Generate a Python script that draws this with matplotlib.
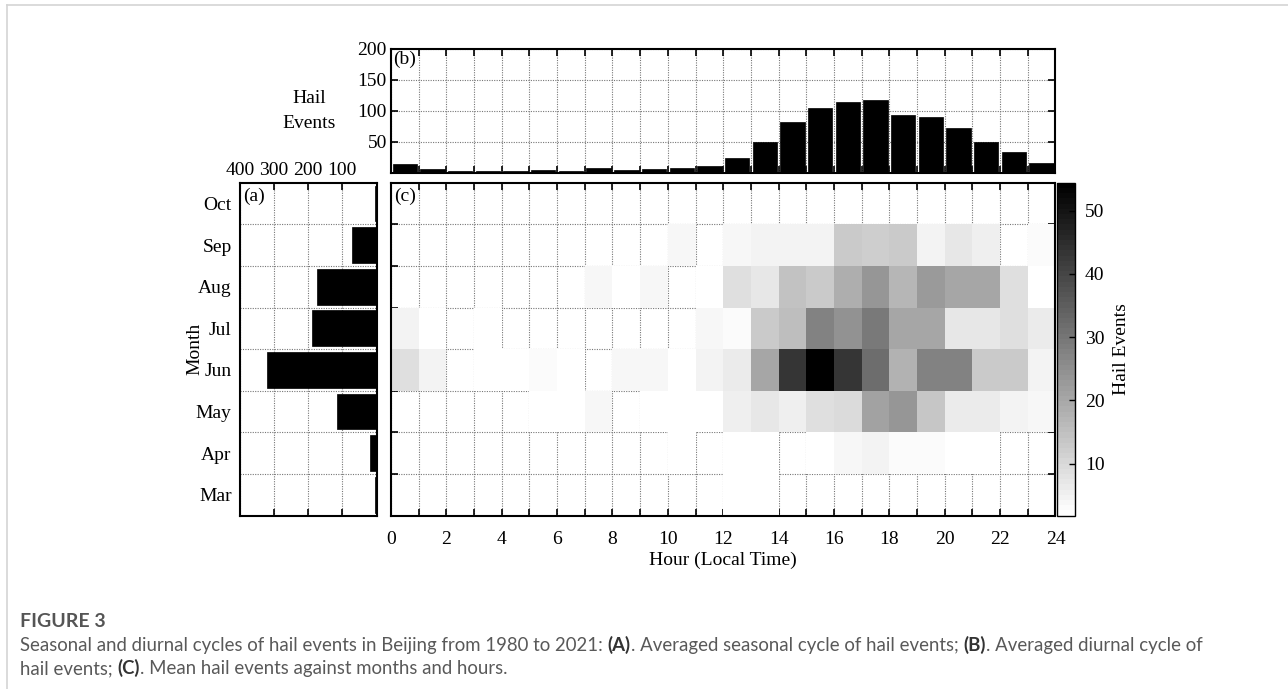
import numpy as np
import matplotlib
matplotlib.use("Agg")
import matplotlib.pyplot as plt
from matplotlib.lines import Line2D

# ---------------- data ----------------
months = ["Mar", "Apr", "May", "Jun", "Jul", "Aug", "Sep", "Oct"]
hours = list(range(24))
hour_labels = [str(h) for h in range(0, 25, 2)]

# (b) diurnal cycle: total hail events per hour
hourly_events = [13, 5, 2, 3, 2, 4, 3, 7, 4, 6, 8, 10,
                 24, 50, 81, 104, 113, 117, 93, 90, 71, 50, 33, 15]

# (a) seasonal cycle: total hail events per month (Mar..Oct)
monthly_events = [5, 20, 117, 320, 190, 173, 73, 3]

# (c) mean hail events by month (rows) and hour (columns); 0 = no events
mar = [0, 0, 0, 0, 0, 0, 0, 0, 0, 0, 0, 0, 2, 2, 0, 0, 0, 0, 0, 0, 0, 0, 0, 0]
apr = [0, 0, 0, 0, 0, 0, 0, 0, 0, 0, 2, 0, 2, 2, 0, 2, 4, 5, 3, 3, 2, 2, 0, 0]
may = [0, 0, 0, 0, 0, 2, 2, 4, 0, 2, 2, 2, 5.9, 7.4, 5.4, 8.6, 10, 21.5, 23.6, 13.7, 6.5, 6.5, 4.3, 3.9]
jun = [8.8, 5, 0, 2, 2, 3, 2, 0, 3.5, 3.5, 2, 5, 6.5, 20, 43.5, 54.4, 43.5, 31.5, 17.8, 28, 28, 12.5, 12.5, 5]
jul = [5, 2, 0, 2, 0, 0, 0, 0, 0, 0, 0, 3.5, 2.8, 13.1, 15.6, 28, 24, 29.6, 20.3, 20.3, 7.3, 7.3, 9, 6]
aug = [0, 0, 0, 0, 0, 0, 0, 4, 2, 4, 0, 2, 8.8, 7.5, 14.7, 12.7, 19, 23.6, 17.4, 22.5, 20.5, 19.9, 8.8, 2]
sep = [0, 0, 0, 0, 0, 0, 0, 0, 0, 0, 4, 0, 4, 4.5, 4.5, 4.5, 13.3, 12.3, 13.3, 5, 7, 5.5, 0, 3.4]
oct_ = [0] * 24

cbar_ticks = [10, 20, 30, 40, 50]
clim = (1.8, 54.4)

# ---------------- figure ----------------
W, H = 1288, 689
fig = plt.figure(figsize=(W / 100, H / 100), dpi=100)
fig.patch.set_facecolor("white")

SERIF = ["Liberation Serif", "DejaVu Serif"]
SANS = ["Lato", "DejaVu Sans"]
plt.rcParams["font.family"] = SERIF
FS = 14


def ax_rect(left, top, right, bottom):
    return [left / W, 1 - bottom / H, (right - left) / W, (bottom - top) / H]


grid_kw = dict(color="#777777", linestyle=(0, (1, 1.2)), linewidth=0.8)
SPINE_W = 1.5


def style_spines(ax):
    for s in ax.spines.values():
        s.set_linewidth(SPINE_W)
        s.set_color("black")


# ----- (b) top histogram -----
axb = fig.add_axes(ax_rect(391, 48.5, 1055.5, 172.5))
axb.set_axisbelow(True)
axb.bar(np.array(hours) + 0.5, hourly_events, width=0.88, color="black",
        edgecolor="black", linewidth=0.5, zorder=2)
axb.set_xlim(0, 24)
axb.set_ylim(0, 200)
axb.set_xticks(range(0, 25))
axb.set_xticklabels([])
axb.set_yticks([50, 100, 150, 200])
axb.set_yticklabels(["50", "100", "150", "200"], fontsize=FS)
axb.tick_params(axis="both", direction="in", length=5, width=1.2,
                top=True, right=True, pad=4)
axb.tick_params(axis="y", pad=3)
axb.grid(True, **grid_kw)
style_spines(axb)
axb.text(0.003, 0.985, "(b)", transform=axb.transAxes, ha="left", va="top",
         fontsize=FS)

fig.text(309 / W, 1 - 111 / H, "Hail\nEvents", ha="center", va="center",
         fontsize=FS, linespacing=1.65)

# ----- (a) left histogram -----
axa = fig.add_axes(ax_rect(240, 182.7, 376.5, 515.5))
axa.set_axisbelow(True)
centers = np.arange(len(months)) + 0.5
axa.barh(centers, monthly_events, height=0.86, color="black",
         edgecolor="black", linewidth=0.5, zorder=2)
axa.set_xlim(400, 0)
axa.set_ylim(0, 8)
axa.xaxis.tick_top()
axa.set_xticks([400, 300, 200, 100])
axa.set_xticklabels(["400", "300", "200", "100"], fontsize=FS)
axa.tick_params(axis="x", direction="in", length=5, width=1.2,
                top=True, bottom=True, pad=3)
axa.set_yticks(np.arange(1, 8))
axa.set_yticklabels([])
axa.tick_params(axis="y", which="major", length=0)
axa.set_yticks(centers, minor=True)
axa.set_yticklabels(months, minor=True, fontsize=FS)
axa.tick_params(axis="y", which="minor", length=0, pad=6)
axa.grid(True, which="major", **grid_kw)
style_spines(axa)
axa.text(0.025, 0.985, "(a)", transform=axa.transAxes, ha="left", va="top",
         fontsize=FS)
fig.text(195 / W, 1 - 349 / H, "Month", rotation=90, ha="center",
         va="center", fontsize=FS)

# ----- (c) heatmap -----
axc = fig.add_axes(ax_rect(391, 182.7, 1055.5, 515.5))
axc.set_axisbelow(True)
Z = np.array([mar, apr, may, jun, jul, aug, sep, oct_], dtype=float)
Zm = np.ma.masked_where(Z <= 0, Z)
cmap = plt.get_cmap("gray_r", 64)
mesh = axc.pcolormesh(np.arange(25), np.arange(9), Zm, cmap=cmap,
                      vmin=clim[0], vmax=clim[1], shading="flat", zorder=1)
axc.set_xlim(0, 24)
axc.set_ylim(0, 8)
axc.set_xticks(range(0, 25, 2))
axc.set_xticklabels(hour_labels, fontsize=FS)
axc.set_xticks(range(1, 24, 2), minor=True)
axc.set_yticks(np.arange(1, 8))
axc.set_yticklabels([])
axc.tick_params(axis="both", which="both", direction="in", length=5,
                width=1.2, top=True, right=True)
axc.tick_params(axis="x", which="major", pad=11)
axc.grid(True, which="both", **grid_kw)
style_spines(axc)
axc.set_xlabel("Hour (Local Time)", fontsize=FS, labelpad=3)
axc.text(0.004, 0.985, "(c)", transform=axc.transAxes, ha="left", va="top",
         fontsize=FS)

# ----- colorbar -----
cax = fig.add_axes(ax_rect(1056.5, 182.7, 1075, 515.5))
cb = fig.colorbar(mesh, cax=cax)
cb.set_ticks(cbar_ticks)
cb.set_ticklabels([str(t) for t in cbar_ticks])
cax.tick_params(direction="in", length=4, width=1.0, labelsize=FS, pad=7)
cb.outline.set_linewidth(1.0)
cb.set_label("Hail Events", fontsize=FS, labelpad=6)

# ----- card border -----
border_kw = dict(color="#d4d4d4", linewidth=1.2, transform=fig.transFigure)
fig.add_artist(Line2D([7 / W, 1.0], [1 - 5 / H, 1 - 5 / H], **border_kw))
fig.add_artist(Line2D([7 / W, 7 / W], [1 - 5 / H, 0.0], **border_kw))

# ----- caption -----
renderer = fig.canvas.get_renderer()
CAP_COLOR = "#595959"
CAP_FS = 13.45


def text_width(s, weight):
    t1 = fig.text(0, 0, "|" + s + "|", fontsize=CAP_FS, weight=weight,
                  family=SANS)
    t2 = fig.text(0, 0, "||", fontsize=CAP_FS, weight=weight, family=SANS)
    w = (t1.get_window_extent(renderer).width
         - t2.get_window_extent(renderer).width)
    t1.remove()
    t2.remove()
    return w


def rich_line(x_px, base_px, pieces):
    x = x_px
    for s, bold in pieces:
        weight = "bold" if bold else "normal"
        fig.text(x / W, 1 - base_px / H, s, fontsize=CAP_FS, weight=weight,
                 family=SANS, color="#333333" if bold else CAP_COLOR,
                 ha="left", va="baseline")
        x += text_width(s, weight)


fig.text(20 / W, 1 - 627 / H, "FIGURE 3", fontsize=14, weight="bold",
         family=SANS, color="#555555", ha="left", va="baseline")
rich_line(20, 651, [
    ("Seasonal and diurnal cycles of hail events in Beijing from 1980 to 2021: ", False),
    ("(A)", True),
    (". Averaged seasonal cycle of hail events; ", False),
    ("(B)", True),
    (". Averaged diurnal cycle of", False),
])
rich_line(20, 674, [
    ("hail events; ", False),
    ("(C)", True),
    (". Mean hail events against months and hours.", False),
])

fig.savefig("out.png", dpi=100)
